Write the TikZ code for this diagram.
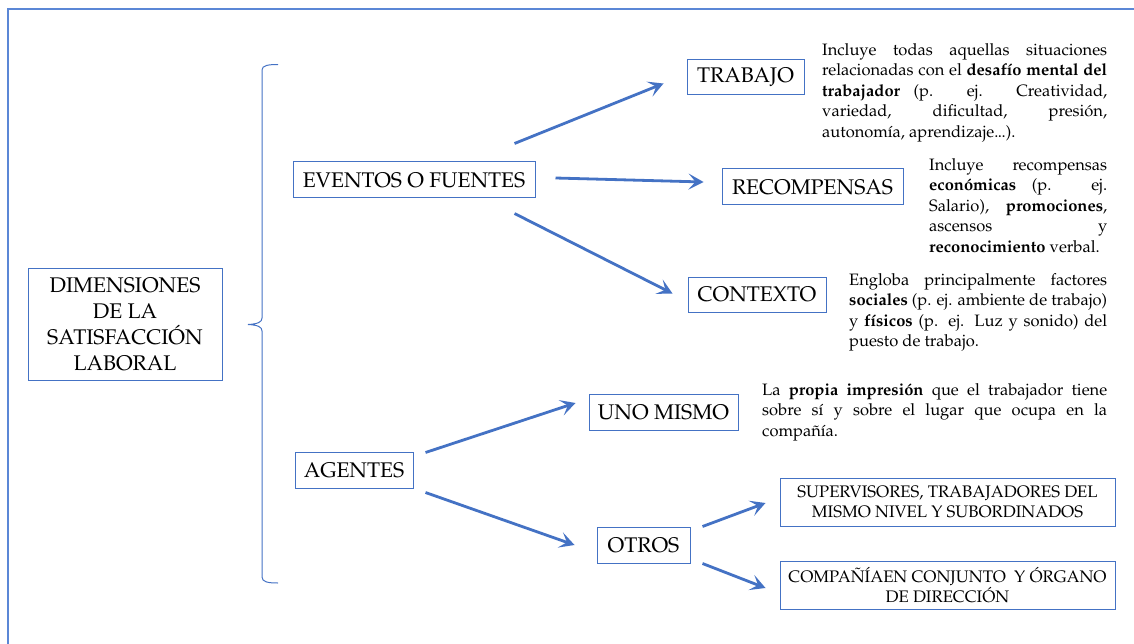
\documentclass[tikz,border=0pt]{standalone}
\usepackage[T1]{fontenc}
\usepackage{mathpazo}
\usetikzlibrary{arrows.meta,calc}
\definecolor{bl}{HTML}{4472C4}
\definecolor{frm}{HTML}{5B87D6}
\tikzset{
  box/.style={draw=bl, line width=1pt, inner sep=0pt, align=center, font=\fontsize{21.2}{26}\selectfont},
  smallbox/.style={box, font=\fontsize{16.7}{19.5}\selectfont},
  desc/.style={inner sep=0pt, anchor=north west, align=justify, font=\fontsize{16.5}{20.5}\selectfont},
  arr/.style={draw=bl, line width=2.8pt, -{Stealth[length=15pt,width=16pt,inset=7pt]}},
  brc/.style={draw=bl, line width=1pt},
}
\newcommand{\tightdots}{.\kern-0.4pt.\kern-0.4pt.}
\begin{document}
\begin{tikzpicture}[x=1pt,y=-1pt]
\useasboundingbox (0,0) rectangle (1134,644);
% outer frame
\draw[frm, line width=2pt] (8,644) -- (8,9) -- (1134,9);
% boxes
\node[box, minimum width=194pt, minimum height=112pt] (dim) at (125,324) {DIMENSIONES\\DE LA\\SATISFACCIÓN\\LABORAL};
\node[box, minimum width=242pt, minimum height=36pt] (ev) at (414,180) {EVENTOS O FUENTES};
\node[box, minimum width=118pt, minimum height=36pt] (ag) at (354,470) {AGENTES};
\node[box, minimum width=117pt, minimum height=35pt] (tr) at (745.5,77.5) {TRABAJO};
\node[box, minimum width=181pt, minimum height=36pt] (rc) at (812.5,187) {RECOMPENSAS};
\node[box, minimum width=138pt, minimum height=35pt] (ct) at (757,294.5) {CONTEXTO};
\node[box, minimum width=149pt, minimum height=36pt] (um) at (663.5,412) {UNO MISMO};
\node[box, minimum width=93pt, minimum height=36pt] (ot) at (643.5,545) {OTROS};
\node[smallbox, minimum width=335pt, minimum height=48pt] (sp) at (947.5,502) {SUPERVISORES, TRABAJADORES DEL\\MISMO NIVEL Y SUBORDINADOS};
\node[smallbox, minimum width=335pt, minimum height=48pt] (cm) at (947.5,585) {COMPAÑÍAEN CONJUNTO\ \ Y ÓRGANO\\DE DIRECCIÓN};
% brace
\draw[brc] (278,64.5) .. controls (268,64.5) and (262,65.5) .. (262,70) -- (262,318)
  .. controls (262,322) and (258,324) .. (248,324.5)
  .. controls (258,325) and (262,327) .. (262,331) -- (262,577)
  .. controls (262,582) and (268,583) .. (278,583);
% arrows
\draw[arr] ($(ev.north east)+(-21,-18)$) -- ($(tr.west)+(-23,6)$);
\draw[arr] ($(ev.east)+(20,-2)$) -- ($(rc.west)+(-18,-5)$);
\draw[arr] ($(ev.south east)+(-21,15)$) -- ($(ct.west)+(-15,-1)$);
\draw[arr] ($(ag.north east)+(12,1)$) -- ($(um.west)+(-13,-9)$);
\draw[arr] ($(ag.south east)+(12,4)$) -- ($(ot.west)+(-22,0)$);
\draw[arr] ($(ot.north east)+(12,0)$) -- ($(sp.west)+(-14,1)$);
\draw[arr] ($(ot.south east)+(12,0)$) -- ($(cm.west)+(-14,3)$);
% descriptions
\node[desc, text width=285pt] (d1) at (822,43) {Incluye todas aquellas situaciones\linebreak relacionadas con el \textbf{desafío mental del}\linebreak \textbf{trabajador} (p. ej. Creatividad,\linebreak variedad, dificultad, presión,\linebreak autonomía, aprendizaje\tightdots).};
\node[desc, text width=178pt] (d2) at (929,158) {Incluye recompensas\linebreak \textbf{económicas} (p. ej.\linebreak Salario), \textbf{promociones},\linebreak ascensos y\linebreak \textbf{reconocimiento} verbal.};
\node[desc, text width=258pt] (d3) at (849,273) {Engloba principalmente factores\linebreak \textbf{sociales} (p. ej. ambiente de trabajo)\linebreak y \textbf{físicos} (p. ej. Luz y sonido) del\linebreak puesto de trabajo.};
\node[desc, text width=345pt] (d4) at (762,383) {La \textbf{propia impresión} que el trabajador tiene\linebreak sobre sí y sobre el lugar que ocupa en la\linebreak compañía.};
\end{tikzpicture}
\end{document}
